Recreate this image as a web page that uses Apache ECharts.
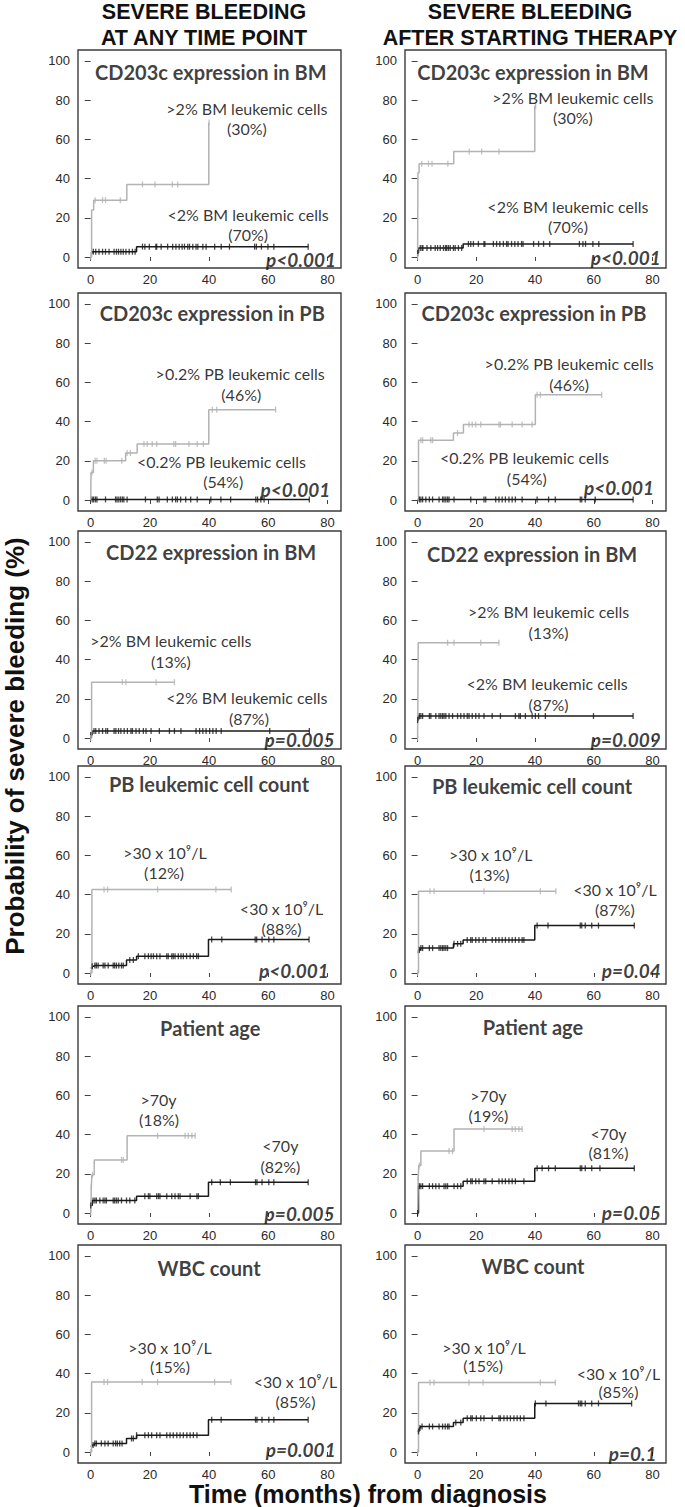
<!DOCTYPE html>
<html><head><meta charset="utf-8">
<script src="https://cdn.jsdelivr.net/npm/echarts@6/dist/echarts.min.js"></script>
<style>html,body{margin:0;padding:0;background:#fff}#c{width:685px;height:1507px}</style>
</head><body><div id="c"></div>
<script>
// ---------- DATA ----------
const xTicks = [0, 20, 40, 60, 80];
const yTicks = [0, 20, 40, 60, 80, 100];
const columnHeaders = [['SEVERE BLEEDING', 'AT ANY TIME POINT'], ['SEVERE BLEEDING', 'AFTER STARTING THERAPY']];
const yAxisTitle = 'Probability of severe bleeding (%)';
const xAxisTitle = 'Time (months) from diagnosis';
const panelTitles = ['CD203c expression in BM', 'CD203c expression in PB', 'CD22 expression in BM', 'PB leukemic cell count', 'Patient age', 'WBC count'];
const highLabels = ['>2% BM leukemic cells', '>0.2% PB leukemic cells', '>2% BM leukemic cells', '>30 x 10\u2079/L', '>70y', '>30 x 10\u2079/L'];
const lowLabels = ['<2% BM leukemic cells', '<0.2% PB leukemic cells', '<2% BM leukemic cells', '<30 x 10\u2079/L', '<70y', '<30 x 10\u2079/L'];
const highShareAny = ['(30%)', '(46%)', '(13%)', '(12%)', '(18%)', '(15%)'];
const lowShareAny = ['(70%)', '(54%)', '(87%)', '(88%)', '(82%)', '(85%)'];
const highShareTher = ['(30%)', '(46%)', '(13%)', '(13%)', '(19%)', '(15%)'];
const lowShareTher = ['(70%)', '(54%)', '(87%)', '(87%)', '(81%)', '(85%)'];
const pAny = ['p<0.001', 'p<0.001', 'p=0.005', 'p<0.001', 'p=0.005', 'p=0.001'];
const pTher = ['p<0.001', 'p<0.001', 'p=0.009', 'p=0.04', 'p=0.05', 'p=0.1'];

// Kaplan-Meier steps [time, %] and censoring times (months)
const bmAnyHigh = [[0,0],[0.3,24],[1,29],[12.2,37],[39.9,68.6],[40,68.6]];
const bmAnyHighCens = [0,1.5,4,5,10,17.5,21.7,27.6,29.4,40];
const bmAnyLow = [[0,2],[0.5,2.7],[15.5,5.3],[73.5,5.3]];
const bmAnyLowCens = [0.9,1.7,2.8,4,5,6.2,7.9,8.7,9.4,10.2,11,11.9,13,14.1,15,17.5,18.3,19.8,22,22.3,23.8,26,27.7,28.8,29.9,30.9,31.7,32.8,33.4,34.5,35.6,36.2,37.9,39,41.9,44.1,46.9,55.4,56,57.7,59.9,61.9,73.5];

const bmTherHigh = [[0,0],[0.1,43],[0.5,47.6],[12.3,53.8],[39.9,77],[40.2,77]];
const bmTherHighCens = [0,1.4,3.7,4.9,10.3,17.6,21.8,27.7,40.2];
const bmTherLow = [[0,2],[0.3,4.6],[15.5,6.7],[73.4,6.7]];
const bmTherLowCens = [0,0.9,1.5,1.8,3.2,4.5,6,6.8,7.7,8.8,9.5,9.9,10.5,11.1,12.2,12.8,13.9,15,17.3,18.1,19,20.7,22.6,22.9,25.8,26.9,28,29.2,30.3,30.8,32,33.1,34.2,35.4,35.9,39.5,41.2,42.9,45,55.1,56.3,57.2,59.7,61.7,73.4];

const pbAnyHigh = [[0,0],[0.1,14.1],[0.9,20],[11.8,24],[15.7,28.6],[39.9,46.1],[62.5,46.1]];
const pbAnyHighCens = [0.45,1.5,2.1,4.6,5.2,10.5,12.3,13.4,18,19.1,20.8,22.3,28.1,28.7,33.2,36,38.1,41.1,42.6,62.5];
const pbAnyLow = [[0,0.3],[73.9,0.3]];
const pbAnyLowCens = [0.5,1,1.6,2.1,5,8.4,8.9,9.5,10.1,10.7,11.2,12.3,18.5,22.5,23.1,25.9,27.6,28.7,29.3,30.4,32.1,33.8,36,40.6,44,47.3,55.8,56.4,57.5,58.6,73.9];

const pbTherHigh = [[0,0],[0.3,30.5],[12.2,34.2],[15.6,38.5],[40.1,53.7],[62.7,53.7]];
const pbTherHighCens = [1.1,1.7,4.5,5.1,13.6,17.5,18.6,19.8,21.5,27.7,28.2,32.2,35.6,39,40.7,41.8,62.7];
const pbTherLow = [[0,0.3],[73.4,0.3]];
const pbTherLowCens = [0.6,1.1,1.7,2.8,4,5.1,7.3,8.5,9,9.6,10.2,10.7,12.4,18.1,22.6,23.2,26.6,27.7,28.8,29.9,31.1,32.2,33.3,35.6,40.7,44.6,46.9,55.4,55.9,57.1,60.5,73.4];

const cd22AnyHigh = [[0,0],[0.3,28.5],[28.3,28.5]];
const cd22AnyHighCens = [0,10.7,11.9,22.1,28.3];
const cd22AnyLow = [[0,1.5],[0.5,3.6],[73.9,3.6]];
const cd22AnyLowCens = [0,1.1,1.7,2.8,4,5.1,5.7,7.9,8.5,9.4,10.2,11.3,12.4,13.6,14.1,15.3,16.4,17.8,18.7,20.4,23.2,26.6,28.3,30.5,35.6,36.8,37.9,39,40.2,41.3,42.4,44.1,60.5,73.9];

const cd22TherHigh = [[0,0],[0.2,48.6],[27.7,48.6]];
const cd22TherHighCens = [0,10.2,12.4,21.5,27.7];
const cd22TherLow = [[0,9.2],[0.3,11.2],[73.4,11.2]];
const cd22TherLowCens = [0,0.6,1.1,1.7,4,4.5,6.2,7.3,7.9,8.5,9,9.6,10.7,11.9,13.6,14.7,15.8,16.9,17.5,18.6,19.8,20.9,22.6,25.4,28.2,33.3,34.5,35,36.7,39,40.1,41.2,43.5,59.9,73.4];

const countAnyHigh = [[0,0],[0.4,42.6],[47.5,42.6]];
const countAnyHighCens = [0,4.5,5.7,22.6,42.3,47.5];
const countAnyLow = [[0,2.6],[0.5,3.4],[1.2,3.8],[12.1,6.7],[15.5,8.6],[39.8,17.1],[73.8,17.1]];
const countAnyLowCens = [0.5,1.4,1.9,2.5,4.2,4.8,5.9,7.6,8.1,8.7,9.5,10.4,11,13.2,14.4,16.1,18.3,19.5,20.4,21.2,22.3,23.4,25.7,26.2,27.4,27.9,28.5,29.6,30.5,31.3,32.4,33.6,34.7,35.8,36.4,40.9,44.3,55.6,56.1,57.9,60.2,61.9,73.8];

const countTherHigh = [[0,0],[0.3,41.7],[47.1,41.7]];
const countTherHighCens = [0,4.2,5.6,22.6,41.8,47.1];
const countTherLow = [[0,10.5],[0.3,11.8],[1,12.7],[12.2,14.9],[15.5,16.9],[39.9,24.2],[73.8,24.2]];
const countTherLowCens = [0.6,1.1,1.7,4,5.1,7.3,7.9,8.5,9,9.6,10.2,12.4,13.6,14.7,16.9,18.1,18.6,19.8,20.9,22.3,23.2,25.4,26.6,27.7,28.8,29.9,31.1,32.2,33.3,34.5,35.6,36.2,40.7,44.4,55.4,55.9,57.1,59.3,61.6,73.8];

const ageAnyHigh = [[0,0],[0.2,13.2],[0.4,19.5],[1.2,27.1],[12.3,39.4],[35.3,39.4]];
const ageAnyHighCens = [0,0.2,0.6,10.4,11,22.6,31.9,33,34.2,35.3];
const ageAnyLow = [[0,3.9],[0.5,6.4],[15.5,8.6],[39.8,15.7],[73.5,15.7]];
const ageAnyLowCens = [0,0.8,1.4,1.9,3.1,4.2,4.8,5.3,7.6,8.1,8.7,9.3,10.4,12.1,13.2,14.9,18.3,19.5,20,22.3,22.9,23.4,25.7,27.4,28.5,29.6,30.2,33.6,35.9,36.4,40.9,43.8,47.2,55.7,56.2,57.9,60.2,61.9,73.5];

const ageTherHigh = [[0,0],[0.2,17.8],[0.4,24.2],[1.1,31.6],[12.4,42.8],[35.6,42.8]];
const ageTherHighCens = [0.2,0.6,10.7,11.9,22.6,32.2,33.3,34.5,35.6];
const ageTherLow = [[0,0],[0.3,13.7],[15.5,16.2],[39.9,22.8],[73.8,22.8]];
const ageTherLowCens = [0,0.6,1.1,1.7,4,5.1,6.2,7.3,9,9.6,10.2,12.4,13.6,14.7,16.9,18.1,18.6,19.8,20.9,22.6,23.2,25.4,27.7,28.8,29.9,31.1,32.2,33.3,36.2,40.7,42.4,44.6,46.9,55.4,55.9,57.1,59.3,62.1,73.8];

const wbcAnyHigh = [[0,0],[0.3,35.7],[47.4,35.7]];
const wbcAnyHighCens = [0,4.5,5.7,17.4,22.6,41.9,47.4];
const wbcAnyLow = [[0,3],[0.5,3.6],[1.2,4.4],[12.1,6.9],[15.5,8.6],[39.8,16.5],[73.5,16.5]];
const wbcAnyLowCens = [0.8,1.4,1.9,3.6,4.8,5.9,7.6,8.4,9,9.8,10.6,13.8,14.4,15.5,18.3,19.5,20.6,22.3,23.4,25.7,26.8,27.9,29.1,30.2,31.3,32.5,33.6,34.7,35.9,40.9,44.1,55.7,56.2,57.9,60.2,61.9,73.5];

const wbcTherHigh = [[0,0],[0.3,35.5],[46.9,35.5]];
const wbcTherHighCens = [0,4.2,5.6,17.5,22.3,41.8,46.9];
const wbcTherLow = [[0,10.5],[0.5,12.2],[1,13],[12.2,15],[15.5,17.2],[39.9,24.8],[72.9,24.8]];
const wbcTherLowCens = [0.3,0.8,1.5,4,5.1,7.3,8.5,9.4,10.2,10.7,13,14.7,16.9,18.1,18.6,20,21.5,22.6,25.4,27.7,28.2,29.4,30.5,31.6,32.8,33.9,35,36.2,40.1,43.7,54.8,55.4,55.9,57.1,59.3,61.6,72.9];

// ---------- LAYOUT (positions of texts, in data units of each panel) ----------
const textPos = [
  {title:[40.6,94.6], hi:[52.8,75.9], hiPct:[52.8,65.7], lo:[53.2,21.6], loPct:[53.2,11.4], p:[82.9,-1.4]},
  {title:[39.3,94.6], hi:[52.9,81.2], hiPct:[52.9,71.1], lo:[51.2,25.7], loPct:[51.2,15.6], p:[82.8,-0.3]},
  {title:[41.1,95.4], hi:[50.5,64.4], hiPct:[50.9,53.9], lo:[44.2,19.5], loPct:[44.8,9.3], p:[81,5.6]},
  {title:[39.6,95.4], hi:[51.6,69.5], hiPct:[51.6,59], lo:[36.4,21.7], loPct:[37.2,11], p:[80.5,6.4]},
  {title:[40.7,94.7], hi:[27.1,49.8], hiPct:[27.1,39.2], lo:[52.8,20.5], loPct:[53.5,10], p:[82.4,-0.7]},
  {title:[39,94], hi:[44.6,64.7], hiPct:[44.6,53.7], lo:[44.1,27.8], loPct:[44.6,17.3], p:[82.8,-0.5]},
  {title:[40,96.2], hi:[25.1,61.5], hiPct:[24.8,51.2], lo:[64.5,32.9], loPct:[64.5,22.9], p:[80.5,1.2]},
  {title:[39,95.4], hi:[24.9,60.7], hiPct:[24.5,50.2], lo:[67.2,42.4], loPct:[67.2,32.2], p:[82.8,1.4]},
  {title:[40.4,94.4], hi:[22.9,58], hiPct:[23.1,47.5], lo:[64.1,34.3], loPct:[64.1,23.7], p:[82.4,-0.3]},
  {title:[39.3,94.9], hi:[24.1,59.7], hiPct:[24.1,49.9], lo:[65,40.8], loPct:[65,31], p:[82.8,0.2]},
  {title:[40,94.1], hi:[26.8,53.3], hiPct:[26.8,43.5], lo:[69.2,35.9], loPct:[69.2,25.8], p:[82.8,1.3]},
  {title:[39.3,94.9], hi:[22.6,53.5], hiPct:[22.3,44.3], lo:[68.4,40], loPct:[68.4,30.7], p:[81.4,-0.7]}
];
const gridLefts = [78, 405];
const gridWidths = [263, 261];
const gridTops = [50, 293, 531, 766, 1006, 1245];
const gridHeight = 218;
const X_MIN = -4.3, X_MAX = 84.6, Y_MIN = -5.6, Y_MAX = 105.6;

const GRAY = '#b3b3b3', BLACK = '#1a1a1a';
const NARROW = '"Liberation Sans Narrow", "Liberation Sans", Arial, sans-serif';
const CAL = 'Lato, "Open Sans", sans-serif';
const ARIAL = '"Liberation Sans", Arial, sans-serif';

// ---------- BUILD ----------
const panelsAny = [
  [bmAnyHigh, bmAnyHighCens, bmAnyLow, bmAnyLowCens],
  [pbAnyHigh, pbAnyHighCens, pbAnyLow, pbAnyLowCens],
  [cd22AnyHigh, cd22AnyHighCens, cd22AnyLow, cd22AnyLowCens],
  [countAnyHigh, countAnyHighCens, countAnyLow, countAnyLowCens],
  [ageAnyHigh, ageAnyHighCens, ageAnyLow, ageAnyLowCens],
  [wbcAnyHigh, wbcAnyHighCens, wbcAnyLow, wbcAnyLowCens]
];
const panelsTher = [
  [bmTherHigh, bmTherHighCens, bmTherLow, bmTherLowCens],
  [pbTherHigh, pbTherHighCens, pbTherLow, pbTherLowCens],
  [cd22TherHigh, cd22TherHighCens, cd22TherLow, cd22TherLowCens],
  [countTherHigh, countTherHighCens, countTherLow, countTherLowCens],
  [ageTherHigh, ageTherHighCens, ageTherLow, ageTherLowCens],
  [wbcTherHigh, wbcTherHighCens, wbcTherLow, wbcTherLowCens]
];

function stepAt(pts, t) {
  let v = pts[0][1];
  for (const p of pts) { if (p[0] <= t + 1e-9) v = p[1]; else break; }
  return v;
}

const grid = [], xAxis = [], yAxis = [], series = [];
for (let r = 0; r < 6; r++) {
  for (let c = 0; c < 2; c++) {
    const i = r * 2 + c;
    grid.push({left: gridLefts[c], top: gridTops[r], width: gridWidths[c], height: gridHeight,
      show: true, borderColor: '#3c3c3c', borderWidth: 1.4, backgroundColor: '#fff'});
    xAxis.push({type: 'value', gridIndex: i, min: X_MIN, max: X_MAX,
      axisLine: {show: false}, splitLine: {show: false},
      axisTick: {show: true, inside: false, length: 4, customValues: xTicks, lineStyle: {color: '#444', width: 1}},
      axisLabel: {customValues: xTicks, margin: 5, color: '#2a2a2a', fontFamily: NARROW, fontSize: 13}});
    yAxis.push({type: 'value', gridIndex: i, min: Y_MIN, max: Y_MAX,
      axisLine: {show: false}, splitLine: {show: false},
      axisTick: {show: true, inside: false, length: 6, customValues: yTicks, lineStyle: {color: '#444', width: 1}},
      axisLabel: {customValues: yTicks, margin: 8, color: '#2a2a2a', fontFamily: NARROW, fontSize: 13}});
    const pd = c === 0 ? panelsAny[r] : panelsTher[r];
    const [hi, hiC, lo, loC] = pd;
    const common = {xAxisIndex: i, yAxisIndex: i, silent: true, animation: false};
    series.push(Object.assign({type: 'line', step: 'end', data: lo, symbol: 'none',
      lineStyle: {color: BLACK, width: 1.5}, z: 3}, common));
    series.push(Object.assign({type: 'scatter', data: loC.map(t => [t, stepAt(lo, t)]),
      symbol: 'rect', symbolSize: [1.3, 6], itemStyle: {color: BLACK}, z: 4}, common));
    series.push(Object.assign({type: 'line', step: 'end', data: hi, symbol: 'none',
      lineStyle: {color: GRAY, width: 1.5}, z: 3}, common));
    series.push(Object.assign({type: 'scatter', data: hiC.map(t => [t, stepAt(hi, t)]),
      symbol: 'rect', symbolSize: [1.3, 6], itemStyle: {color: GRAY}, z: 4}, common));

    const tp = textPos[i];
    const hs = c === 0 ? highShareAny[r] : highShareTher[r];
    const ls = c === 0 ? lowShareAny[r] : lowShareTher[r];
    const pv = c === 0 ? pAny[r] : pTher[r];
    const lbl = (font, size, weight, style, align, color) => ({show: true, position: 'inside', formatter: p => p.data[2],
      fontFamily: font, fontSize: size, fontWeight: weight, fontStyle: style, color: color, align: align, verticalAlign: 'middle'});
    series.push(Object.assign({type: 'scatter', symbolSize: 0, z: 6,
      data: [[tp.title[0], tp.title[1], panelTitles[r]]],
      label: lbl(CAL, 20, 'bold', 'normal', 'center', '#0d0d0d')}, common));
    series.push(Object.assign({type: 'scatter', symbolSize: 0, z: 6,
      data: [[tp.hi[0], tp.hi[1], highLabels[r]], [tp.hiPct[0], tp.hiPct[1], hs],
             [tp.lo[0], tp.lo[1], lowLabels[r]], [tp.loPct[0], tp.loPct[1], ls]],
      label: lbl(CAL, 16, 'normal', 'normal', 'center', '#000')}, common));
    series.push(Object.assign({type: 'scatter', symbolSize: 0, z: 6,
      data: [[tp.p[0], tp.p[1], pv]],
      label: lbl(CAL, 19, 'bold', 'italic', 'right', '#0d0d0d')}, common));
  }
}

const headerCenters = [204, 530];
const graphic = [];
columnHeaders.forEach((lines, c) => {
  lines.forEach((t, k) => graphic.push({type: 'text', x: headerCenters[c], y: 12 + k * 26,
    style: {text: t, fill: '#111', font: 'bold 21.5px ' + ARIAL, align: 'center', verticalAlign: 'middle',
            textAlign: 'center', textVerticalAlign: 'middle'}}));
});
graphic.push({type: 'text', x: 15, y: 746, rotation: Math.PI / 2,
  style: {text: yAxisTitle, fill: '#111', font: 'bold 26px ' + ARIAL, align: 'center', verticalAlign: 'middle',
          textAlign: 'center', textVerticalAlign: 'middle'}});
graphic.push({type: 'text', x: 368, y: 1494,
  style: {text: xAxisTitle, fill: '#111', font: 'bold 25px ' + ARIAL, align: 'center', verticalAlign: 'middle',
          textAlign: 'center', textVerticalAlign: 'middle'}});

const chart = echarts.init(document.getElementById('c'), null, {renderer: 'svg'});
chart.setOption({animation: false, backgroundColor: '#fff', grid, xAxis, yAxis, series, graphic});
</script></body></html>
